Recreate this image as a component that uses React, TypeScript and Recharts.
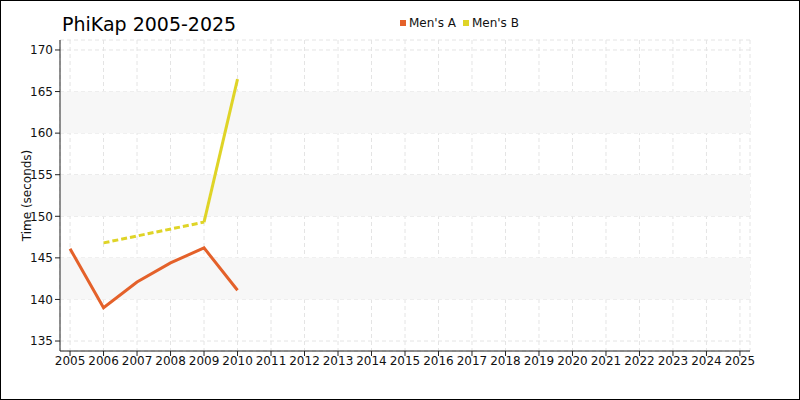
import React from 'react';
import { LineChart, Line, XAxis, YAxis, CartesianGrid, ReferenceArea } from 'recharts';

const years = [2005, 2006, 2007, 2008, 2009, 2010];
const mensA = [146.1, 139.0, 142.1, 144.4, 146.2, 141.1];
// Men's B: 2006, 2009, 2010 (gap 2007-2008 drawn dashed)
const mensB = [null, 146.8, null, null, 149.3, 166.5];

const xTicks = [2005, 2006, 2007, 2008, 2009, 2010, 2011, 2012, 2013, 2014, 2015, 2016, 2017, 2018, 2019, 2020, 2021, 2022, 2023, 2024, 2025];
const yTicks = [135, 140, 145, 150, 155, 160, 165, 170];
const bands: [number, number][] = [[140, 145], [150, 155], [160, 165]];

const title = 'PhiKap 2005-2025';
const seriesNames = ["Men's A", "Men's B"];
const colors = ['#e4612a', '#dfd427'];

// Men's B split into a dashed part (across the gap) and a solid part
const bIdx = mensB.map((v, i) => (v == null ? -1 : i)).filter((i) => i >= 0);
const data = years.map((y, i) => ({
  year: y,
  a: mensA[i],
  bDash: bIdx.slice(0, 2).includes(i) ? mensB[i] : null,
  bSolid: bIdx.slice(1).includes(i) ? mensB[i] : null,
}));

const font = 'DejaVu Sans, Verdana, sans-serif';
const ink = '#111';

export default function App() {
  return (
    <div
      style={{
        position: 'fixed',
        left: 0,
        top: 0,
        width: 800,
        height: 400,
        boxSizing: 'border-box',
        border: '1px solid #000',
        background: '#fff',
        fontFamily: font,
      }}
    >
      <div style={{ position: 'absolute', left: 0, top: 0 }}>
        <LineChart
          width={798}
          height={398}
          data={data}
          margin={{ top: 39, right: 49, bottom: 18, left: 0 }}
        >
          {bands.map(([y1, y2], i) => (
            <ReferenceArea key={i} y1={y1} y2={y2} fill="#f7f7f7" fillOpacity={1} stroke="none" />
          ))}
          <CartesianGrid stroke="#e4e4e4" strokeDasharray="4 3" />
          <XAxis
            dataKey="year"
            type="number"
            domain={[2004.7, 2025.3]}
            ticks={xTicks}
            interval={0}
            height={30}
            tickSize={5}
            tickMargin={0}
            stroke="#222"
            tick={{ fill: ink, fontSize: 12, fontFamily: font }}
            allowDecimals={false}
          />
          <YAxis
            type="number"
            domain={[133.8, 171.2]}
            ticks={yTicks}
            interval={0}
            width={59}
            tickSize={5}
            tickMargin={2}
            stroke="#222"
            tick={{ fill: ink, fontSize: 12, fontFamily: font }}
            label={{
              content: (props: any) => {
                const vb = props.viewBox || {};
                const cy = (vb.y || 0) + (vb.height || 0) / 2;
                return (
                  <text
                    x={26}
                    y={cy}
                    transform={`rotate(-90, 26, ${cy})`}
                    textAnchor="middle"
                    dominantBaseline="central"
                    fontSize={12}
                    fontFamily={font}
                    fill={ink}
                  >
                    Time (seconds)
                  </text>
                );
              },
            }}
          />
          <Line
            dataKey="a"
            name={seriesNames[0]}
            stroke={colors[0]}
            strokeWidth={3}
            dot={false}
            isAnimationActive={false}
          />
          <Line
            dataKey="bDash"
            name={seriesNames[1]}
            stroke={colors[1]}
            strokeWidth={3}
            strokeDasharray="6 3"
            dot={false}
            connectNulls
            isAnimationActive={false}
          />
          <Line
            dataKey="bSolid"
            name={seriesNames[1]}
            stroke={colors[1]}
            strokeWidth={3}
            dot={false}
            connectNulls
            isAnimationActive={false}
          />
        </LineChart>
      </div>
      <div
        style={{
          position: 'absolute',
          left: 61,
          top: 9,
          fontSize: 19,
          color: '#000',
          fontFamily: font,
          lineHeight: '28px',
          whiteSpace: 'nowrap',
        }}
      >
        {title}
      </div>
      <div
        style={{
          position: 'absolute',
          left: 399,
          top: 14,
          display: 'flex',
          alignItems: 'center',
          fontSize: 12,
          color: ink,
          fontFamily: font,
          lineHeight: '16px',
          whiteSpace: 'nowrap',
        }}
      >
        {seriesNames.map((n, i) => (
          <span key={n} style={{ display: 'flex', alignItems: 'center', marginRight: 7 }}>
            <span style={{ display: 'inline-block', width: 6, height: 6, background: colors[i], marginRight: 3 }} />
            {n}
          </span>
        ))}
      </div>
    </div>
  );
}
